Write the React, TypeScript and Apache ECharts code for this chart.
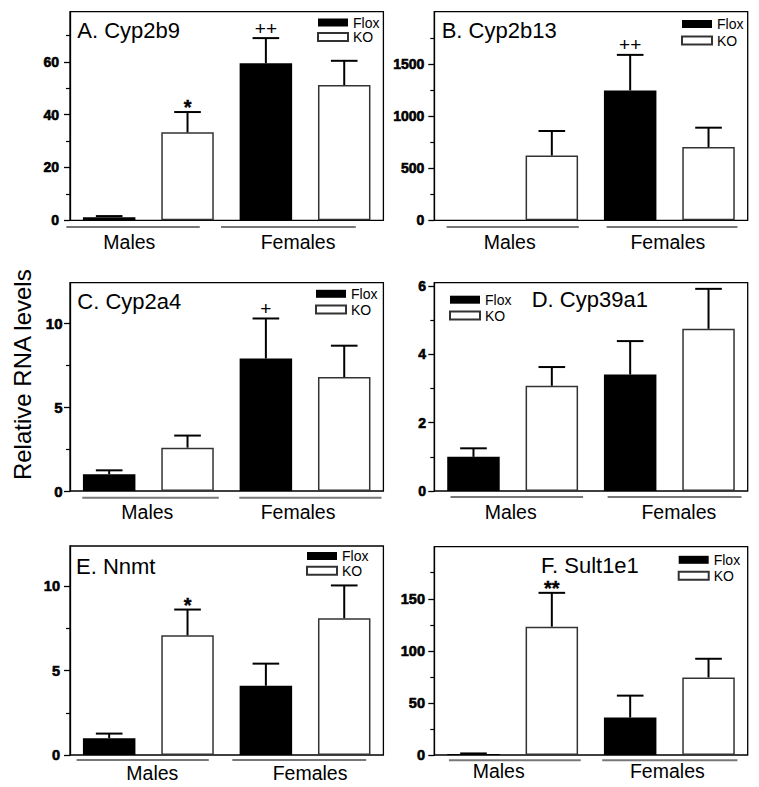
import React, { useEffect, useRef } from 'react';
import * as echarts from 'echarts';

// ---------------- data ----------------
const groups = ['Males', 'Females'];
const genotypes = ['Flox', 'KO'];
const categories = ['Males Flox', 'Males KO', 'Females Flox', 'Females KO'];
const yAxisTitle = 'Relative RNA levels';
const panelTitles = ['A. Cyp2b9', 'B. Cyp2b13', 'C. Cyp2a4', 'D. Cyp39a1', 'E. Nnmt', 'F. Sult1e1'];

// order of each array: Males Flox, Males KO, Females Flox, Females KO
const cyp2b9Mean = [1.2, 33.3, 59.5, 51.2];
const cyp2b9Sem = [0.4, 7.7, 9.5, 9.2];
const cyp2b9Marks = ['', '*', '++', ''];
const cyp2b9Ticks = [0, 20, 40, 60];
const cyp2b9Minor = [10, 30, 50, 70];
const cyp2b9Max = 79;

const cyp2b13Mean = [0, 621, 1245, 703];
const cyp2b13Sem = [0, 235, 341, 185];
const cyp2b13Marks = ['', '', '++', ''];
const cyp2b13Ticks = [0, 500, 1000, 1500];
const cyp2b13Minor = [250, 750, 1250, 1750];
const cyp2b13Max = 2000;

const cyp2a4Mean = [1.0, 2.58, 7.89, 6.78];
const cyp2a4Sem = [0.23, 0.72, 2.38, 1.87];
const cyp2a4Marks = ['', '', '+', ''];
const cyp2a4Ticks = [0, 5, 10];
const cyp2a4Minor = [2.5, 7.5];
const cyp2a4Max = 12.4;

const cyp39a1Mean = [1.0, 3.08, 3.41, 4.75];
const cyp39a1Sem = [0.25, 0.55, 0.98, 1.17];
const cyp39a1Marks = ['', '', '', ''];
const cyp39a1Ticks = [0, 2, 4, 6];
const cyp39a1Minor = [1, 3, 5];
const cyp39a1Max = 6.1;

const nnmtMean = [1.0, 7.1, 4.11, 8.11];
const nnmtSem = [0.27, 1.53, 1.31, 1.95];
const nnmtMarks = ['', '*', '', ''];
const nnmtTicks = [0, 5, 10];
const nnmtMinor = [2.5, 7.5];
const nnmtMax = 12.4;

const sult1e1Mean = [1.0, 123.2, 36.0, 74.5];
const sult1e1Sem = [0.5, 32.5, 21.0, 17.9];
const sult1e1Marks = ['', '**', '', ''];
const sult1e1Ticks = [0, 50, 100, 150];
const sult1e1Minor = [25, 75, 125, 175];
const sult1e1Max = 200;

const panels = [
  { title: panelTitles[0], mean: cyp2b9Mean, sem: cyp2b9Sem, marks: cyp2b9Marks, ticks: cyp2b9Ticks, minor: cyp2b9Minor, max: cyp2b9Max },
  { title: panelTitles[1], mean: cyp2b13Mean, sem: cyp2b13Sem, marks: cyp2b13Marks, ticks: cyp2b13Ticks, minor: cyp2b13Minor, max: cyp2b13Max },
  { title: panelTitles[2], mean: cyp2a4Mean, sem: cyp2a4Sem, marks: cyp2a4Marks, ticks: cyp2a4Ticks, minor: cyp2a4Minor, max: cyp2a4Max },
  { title: panelTitles[3], mean: cyp39a1Mean, sem: cyp39a1Sem, marks: cyp39a1Marks, ticks: cyp39a1Ticks, minor: cyp39a1Minor, max: cyp39a1Max },
  { title: panelTitles[4], mean: nnmtMean, sem: nnmtSem, marks: nnmtMarks, ticks: nnmtTicks, minor: nnmtMinor, max: nnmtMax },
  { title: panelTitles[5], mean: sult1e1Mean, sem: sult1e1Sem, marks: sult1e1Marks, ticks: sult1e1Ticks, minor: sult1e1Minor, max: sult1e1Max },
];

// ---------------- layout (pixels) ----------------
const PLOT_W = 313.4;
const layoutCfg = [
  { left: 70, top: 11.7, height: 208.6, tickFont: 14, tickMargin: 11, titleX: 77.3, titleY: 30.7, legendLeft: 317, legendTop: 15.5, legendGap: 0.5, lineOff: [-16.6, -14, -18.6, -14.7], textDx: [-19, -7], lineDy: 6.7, textDy: 22 },
  { left: 434.3, top: 11.7, height: 208.6, tickFont: 14, tickMargin: 10, titleX: 441.7, titleY: 30.7, legendLeft: 681, legendTop: 17, legendGap: 2.5, lineOff: [-0.6, 0.7, 2.7, 2.7], textDx: [-3, -1.5], lineDy: 6.7, textDy: 22 },
  { left: 70, top: 282.7, height: 208.3, tickFont: 15, tickMargin: 7.5, titleX: 77.3, titleY: 301.7, legendLeft: 315, legendTop: 286.8, legendGap: 1.7, lineOff: [-0.6, 5, -0.3, 11], textDx: [-1, -7], lineDy: 6.7, textDy: 20.7 },
  { left: 434.3, top: 282.7, height: 208.3, tickFont: 14, tickMargin: 8.3, titleX: 531.7, titleY: 299.3, legendLeft: 449, legendTop: 292.7, legendGap: 1.8, lineOff: [3.3, 5, 3.7, 6.7], textDx: [-2, 9.5], lineDy: 6, textDy: 20.7 },
  { left: 70, top: 546, height: 209, tickFont: 14.5, tickMargin: 10, titleX: 76, titleY: 566.7, legendLeft: 306, legendTop: 549, legendGap: 0.8, lineOff: [-6.3, -5, -7.3, -4.3], textDx: [4, 5], lineDy: 5, textDy: 17.5 },
  { left: 434.3, top: 546.7, height: 208.3, tickFont: 14.5, tickMargin: 9.3, titleX: 541, titleY: 565, legendLeft: 677.7, legendTop: 552.8, legendGap: 2, lineOff: [1.7, 2.7, -1.7, 2.7], textDx: [-14, -2], lineDy: 5.3, textDy: 16 },
];

const FONT = 'Arial, "Liberation Sans", Helvetica, sans-serif';
const BAR_FRAC = 0.67;

function buildOption() {
  const grid: any[] = [];
  const xAxis: any[] = [];
  const yAxis: any[] = [];
  const series: any[] = [];
  const legend: any[] = [];

  panels.forEach((p, i) => {
    const L = layoutCfg[i];
    grid.push({
      left: L.left, top: L.top, width: PLOT_W, height: L.height,
      show: true, borderColor: '#000', borderWidth: 1.3, backgroundColor: 'transparent',
      containLabel: false, outerBoundsMode: 'none',
    });
    xAxis.push({
      type: 'category', gridIndex: i, data: categories,
      axisLine: { show: false }, axisTick: { show: false }, axisLabel: { show: false }, splitLine: { show: false },
    });
    yAxis.push({
      type: 'value', gridIndex: i, position: 'left', min: 0, max: p.max,
      axisLine: { show: true, lineStyle: { color: '#000', width: 1.3 } },
      axisTick: { show: true, length: 6, customValues: p.ticks, lineStyle: { color: '#000', width: 1.3 } },
      axisLabel: { show: false },
      splitLine: { show: false },
    });
    yAxis.push({
      type: 'value', gridIndex: i, position: 'left', min: 0, max: p.max,
      axisLine: { show: false },
      axisTick: { show: true, length: 4, customValues: p.minor, lineStyle: { color: '#000', width: 1.2 } },
      axisLabel: { show: false },
      splitLine: { show: false },
    });
    const floxData = p.mean.map((v, k) => (k % 2 === 0 ? v : '-'));
    const koData = p.mean.map((v, k) => (k % 2 === 1 ? v : '-'));
    series.push({
      name: genotypes[0], type: 'bar', xAxisIndex: i, yAxisIndex: 2 * i, stack: 'p' + i,
      barWidth: BAR_FRAC * 100 + '%', data: floxData,
      itemStyle: { color: '#000', borderColor: '#000', borderWidth: 0 },
    });
    series.push({
      name: genotypes[1], type: 'bar', xAxisIndex: i, yAxisIndex: 2 * i, stack: 'p' + i,
      barWidth: BAR_FRAC * 100 + '%', data: koData,
      itemStyle: { color: '#fff', borderColor: '#333', borderWidth: 1.5 },
    });
    const marks = p.marks;
    series.push({
      type: 'custom', xAxisIndex: i, yAxisIndex: 2 * i, z: 10,
      data: p.mean.map((v, k) => [k, v, p.sem[k]]),
      renderItem: (params: any, api: any) => {
        const c = api.value(0);
        const m = api.value(1);
        const s = api.value(2);
        const children: any[] = [];
        const base = api.coord([c, m]);
        const top = api.coord([c, m + s]);
        const band = api.size([1, 0])[0];
        const hw = band * 0.17;
        if (s > 0) {
          children.push({ type: 'line', shape: { x1: base[0], y1: base[1], x2: top[0], y2: top[1] }, style: { stroke: '#000', lineWidth: 2 } });
          children.push({ type: 'line', shape: { x1: top[0] - hw, y1: top[1], x2: top[0] + hw, y2: top[1] }, style: { stroke: '#000', lineWidth: 2 } });
        }
        const mk = marks[params.dataIndex];
        if (mk) {
          const isStar = mk.indexOf('*') >= 0;
          const st: any = isStar
            ? { text: mk, fill: '#000', stroke: '#000', lineWidth: 0.4, font: 'bold 20px Arial, sans-serif', fontSize: 20, fontWeight: 'bold', fontFamily: 'Arial, sans-serif' }
            : { text: mk, fill: '#000', font: '19px Arial, sans-serif', fontSize: 19, fontFamily: 'Arial, sans-serif' };
          st.align = 'center';
          st.verticalAlign = 'middle';
          st.textAlign = 'center';
          st.textVerticalAlign = 'middle';
          children.push({ type: 'text', x: top[0], y: top[1] - (isStar ? 5 : 10), style: st });
        }
        return { type: 'group', children };
      },
    });
    legend.push({
      left: L.legendLeft, top: L.legendTop, orient: 'vertical', padding: 0,
      itemWidth: 30, itemHeight: 8, itemGap: L.legendGap, icon: 'rect', selectedMode: false,
      data: genotypes,
      textStyle: { fontSize: 14, color: '#000', fontFamily: FONT, lineHeight: 14 },
    });
  });

  return {
    animation: false,
    textStyle: { fontFamily: FONT },
    grid, xAxis, yAxis, series, legend,
  };
}

export default function App() {
  const ref = useRef<HTMLDivElement>(null);
  useEffect(() => {
    if (!ref.current) return;
    const chart = echarts.init(ref.current, null, { renderer: 'svg' });
    chart.setOption(buildOption() as any);

    const graphics: any[] = [];
    panels.forEach((p, i) => {
      const L = layoutCfg[i];
      const px = (cat: number, v: number) => chart.convertToPixel({ xAxisIndex: i, yAxisIndex: 2 * i } as any, [cat, v]) as number[];
      const c0 = px(0, 0);
      const c1 = px(1, 0);
      const band = c1[0] - c0[0];
      const hb = (band * BAR_FRAC) / 2;
      const y0 = c0[1];
      const axisX = c0[0] - band / 2;
      // y tick labels, placed through the value scale
      p.ticks.forEach((t) => {
        const ty = px(0, t)[1];
        graphics.push({
          type: 'text', silent: true, x: axisX - L.tickMargin, y: ty,
          style: {
            text: String(t), fill: '#000', stroke: '#000', lineWidth: 0.6,
            font: 'bold ' + L.tickFont + 'px Arial, sans-serif',
            fontSize: L.tickFont, fontWeight: 'bold', fontFamily: 'Arial, sans-serif',
            align: 'right', verticalAlign: 'middle',
          },
        });
      });
      groups.forEach((g, gi) => {
        const xa = px(gi * 2, 0)[0];
        const xb = px(gi * 2 + 1, 0)[0];
        graphics.push({
          type: 'line', silent: true,
          shape: { x1: xa - hb + L.lineOff[gi * 2], y1: y0 + L.lineDy, x2: xb + hb + L.lineOff[gi * 2 + 1], y2: y0 + L.lineDy },
          style: { stroke: '#777', lineWidth: 2 },
        });
        graphics.push({
          type: 'text', silent: true, x: (xa + xb) / 2 + L.textDx[gi], y: y0 + L.textDy,
          style: { text: g, fill: '#000', fontSize: 19.5, fontFamily: FONT, align: 'center', verticalAlign: 'middle' },
        });
      });
      graphics.push({
        type: 'text', silent: true, x: L.titleX, y: L.titleY,
        style: { text: p.title, fill: '#000', fontSize: 22, fontFamily: FONT, align: 'left', verticalAlign: 'middle' },
      });
    });
    graphics.push({
      type: 'text', silent: true, x: 22.3, y: 374.7, rotation: Math.PI / 2,
      style: { text: yAxisTitle, fill: '#000', fontSize: 24, fontFamily: FONT, align: 'center', verticalAlign: 'middle' },
    });
    chart.setOption({ graphic: graphics } as any);

    return () => chart.dispose();
  }, []);
  return <div ref={ref} style={{ position: 'fixed', left: 0, top: 0, width: 759, height: 787, background: '#fff' }} />;
}
